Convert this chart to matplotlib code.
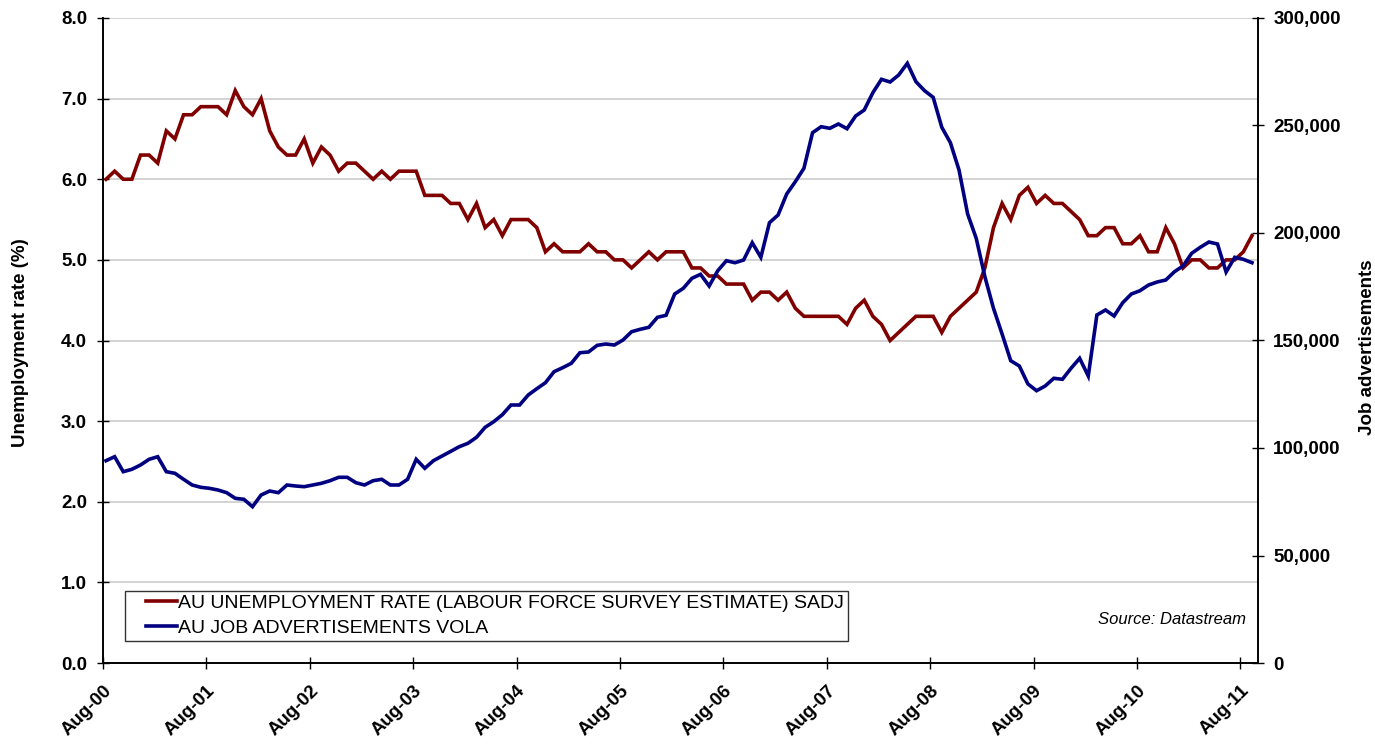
import matplotlib
matplotlib.use("Agg")
import matplotlib.pyplot as plt
import matplotlib.transforms as mtransforms
from matplotlib.ticker import FuncFormatter
from matplotlib.legend_handler import HandlerLine2D
from matplotlib.lines import Line2D
import numpy as np

plt.rcParams['font.family'] = ['Liberation Sans', 'DejaVu Sans']

# ---- data (monthly, Aug-2000 .. Sep-2011) ----
unemployment = [
    6.0, 6.1, 6.0, 6.0, 6.3, 6.3, 6.2, 6.6, 6.5, 6.8, 6.8, 6.9, 6.9, 6.9, 6.8, 7.1, 6.9, 6.8, 7.0, 6.6,
    6.4, 6.3, 6.3, 6.5, 6.2, 6.4, 6.3, 6.1, 6.2, 6.2, 6.1, 6.0, 6.1, 6.0, 6.1, 6.1, 6.1, 5.8,
    5.8, 5.8, 5.7, 5.7, 5.5, 5.7, 5.4, 5.5, 5.3, 5.5, 5.5, 5.5, 5.4, 5.1, 5.2, 5.1, 5.1, 5.1, 5.2, 5.1,
    5.1, 5.0, 5.0, 4.9, 5.0, 5.1, 5.0, 5.1, 5.1, 5.1, 4.9, 4.9, 4.8, 4.8, 4.7,
    4.7, 4.7, 4.5, 4.6, 4.6, 4.5, 4.6, 4.4, 4.3, 4.3, 4.3, 4.3, 4.3, 4.2, 4.4, 4.5, 4.3, 4.2, 4.0, 4.1,
    4.2, 4.3, 4.3, 4.3, 4.1, 4.3, 4.4, 4.5, 4.6,
    4.9, 5.4, 5.7, 5.5, 5.8, 5.9, 5.7, 5.8, 5.7, 5.7, 5.6, 5.5, 5.3, 5.3, 5.4, 5.4, 5.2, 5.2, 5.3, 5.1,
    5.1, 5.4, 5.2, 4.9, 5.0, 5.0, 4.9, 4.9, 5.0, 5.0, 5.1, 5.3,
]
job_ads = [
    94100, 95950, 88980, 90090, 92090, 94740, 95950, 88980, 88230, 85440, 82790, 81720, 81250, 80460,
    79220, 76600, 76140, 72700, 78140, 80000, 79220, 82790, 82330, 82000, 82790, 83580, 84790, 86370,
    86370, 83860, 82790, 84790, 85440, 82790, 82790, 85440, 94740, 90560,
    94100, 96280, 98460, 100600, 102180, 104970, 109620, 112240, 115490, 120000, 120000, 124650,
    127580, 130370, 135490, 137350, 139380, 144320, 144650, 147750, 148370, 147900, 150230, 154090,
    155210, 156140, 160790, 161720, 171630, 174270, 178920, 180780, 175340, 182460, 187110,
    186180, 187440, 195480, 188690, 204790, 208370, 218140, 223860, 230090, 246650, 249440, 248690,
    250700, 248510, 254420, 257210, 265260, 271490, 270230, 273490, 278920, 270380, 266190, 263100,
    249160, 242000, 229300, 208840, 197500,
    179690, 164980, 153020, 140600, 138140, 129770, 126650, 128840, 132420, 131950, 137070, 141720,
    133490, 161860, 164190, 161400, 167580, 171630, 173160, 175810, 177210, 178140, 181990, 184650,
    190550, 193340, 195810, 194880, 181840, 188690, 187760, 186180,
]
tick_labels = ['Aug-00', 'Aug-01', 'Aug-02', 'Aug-03', 'Aug-04', 'Aug-05', 'Aug-06',
               'Aug-07', 'Aug-08', 'Aug-09', 'Aug-10', 'Aug-11']
series_names = ['AU UNEMPLOYMENT RATE (LABOUR FORCE SURVEY ESTIMATE) SADJ',
                'AU JOB ADVERTISEMENTS VOLA']

months = np.arange(len(unemployment))
tick_pos = np.arange(len(tick_labels)) * 12 - 0.35

fig = plt.figure(figsize=(13.75, 7.44), dpi=100)
ax = fig.add_axes([103/1375, 1 - 663/744, (1258-103)/1375, (663-18)/744])
ax2 = ax.twinx()

red = '#800000'
blue = '#000080'
LW = 2.6

l1, = ax.plot(months, unemployment, color=red, lw=LW, solid_joinstyle='miter', zorder=3)
l2, = ax2.plot(months, job_ads, color=blue, lw=LW, solid_joinstyle='miter', zorder=3)

ax.set_xlim(-0.35, 133.7)
ax.set_ylim(0, 8)
ax2.set_ylim(0, 300000)

ax.set_yticks(np.arange(0, 8.01, 1.0))
ax.yaxis.set_major_formatter(FuncFormatter(lambda v, p: f'{v:.1f}'))
ax2.set_yticks(np.arange(0, 300001, 50000))
ax2.yaxis.set_major_formatter(FuncFormatter(lambda v, p: f'{int(v):,}'))

FS = 13.5
ax.set_xticks(tick_pos)
ax.set_xticklabels(tick_labels, rotation=45, ha='right', va='top', rotation_mode='anchor',
                   fontsize=FS, fontweight='bold')
shift = mtransforms.ScaledTranslation(-4/100, 0, fig.dpi_scale_trans)
for lab in ax.get_xticklabels():
    lab.set_transform(lab.get_transform() + shift)

for lab in ax.get_yticklabels():
    lab.set_fontweight('bold'); lab.set_fontsize(FS)
for lab in ax2.get_yticklabels():
    lab.set_fontweight('bold'); lab.set_fontsize(FS)

ax.tick_params(axis='y', direction='inout', length=8, width=1, pad=7.5)
ax.tick_params(axis='x', direction='inout', length=8, width=1, pad=10)
ax2.tick_params(axis='y', direction='inout', length=8, width=1, pad=7)

# gridlines at left axis majors (except 0)
for v in np.arange(1, 8.01, 1.0):
    ax.axhline(v, color='#c8c8c8', lw=1.1, zorder=0)

for a in (ax, ax2):
    a.spines['top'].set_visible(False)
    for sp in ['left', 'right', 'bottom']:
        a.spines[sp].set_linewidth(1.2)
        a.spines[sp].set_color('black')

ax.set_ylabel('Unemployment rate (%)', fontsize=FS, fontweight='bold', va='center')
ax.yaxis.set_label_coords((21-103)/1155, 0.497)
ax2.set_ylabel('Job advertisements', fontsize=FS, fontweight='bold', va='center')
ax2.yaxis.set_label_coords((1367-103)/1155, 0.49)


class OffsetHandler(HandlerLine2D):
    def create_artists(self, legend, orig_handle, xdescent, ydescent, width, height,
                       fontsize, trans):
        arts = super().create_artists(legend, orig_handle, xdescent, ydescent, width,
                                      height, fontsize, trans)
        for a in arts:
            if isinstance(a, Line2D) and a.get_linestyle() not in ('None', 'none', ''):
                xd = np.asarray(a.get_xdata(), float)
                yd = np.asarray(a.get_ydata(), float)
                a.set_data([xd.min() + width * 0.36, xd.max()], [yd[0], yd[0]])
        return arts


leg = ax2.legend([l1, l2], series_names, loc='lower left',
                 bbox_to_anchor=((125-103)/1155, (663-641)/645), frameon=True,
                 fancybox=False, edgecolor='black', fontsize=14, handlelength=2.45,
                 handletextpad=0.1, borderpad=0.2, labelspacing=0.38, borderaxespad=0,
                 handler_map={Line2D: OffsetHandler()})
leg.get_frame().set_linewidth(1.0)

ax.text((1246-103)/1155, (663-619)/645, 'Source: Datastream', transform=ax.transAxes,
        ha='right', va='center', fontsize=12, style='italic')

fig.savefig('out.png', dpi=100)
